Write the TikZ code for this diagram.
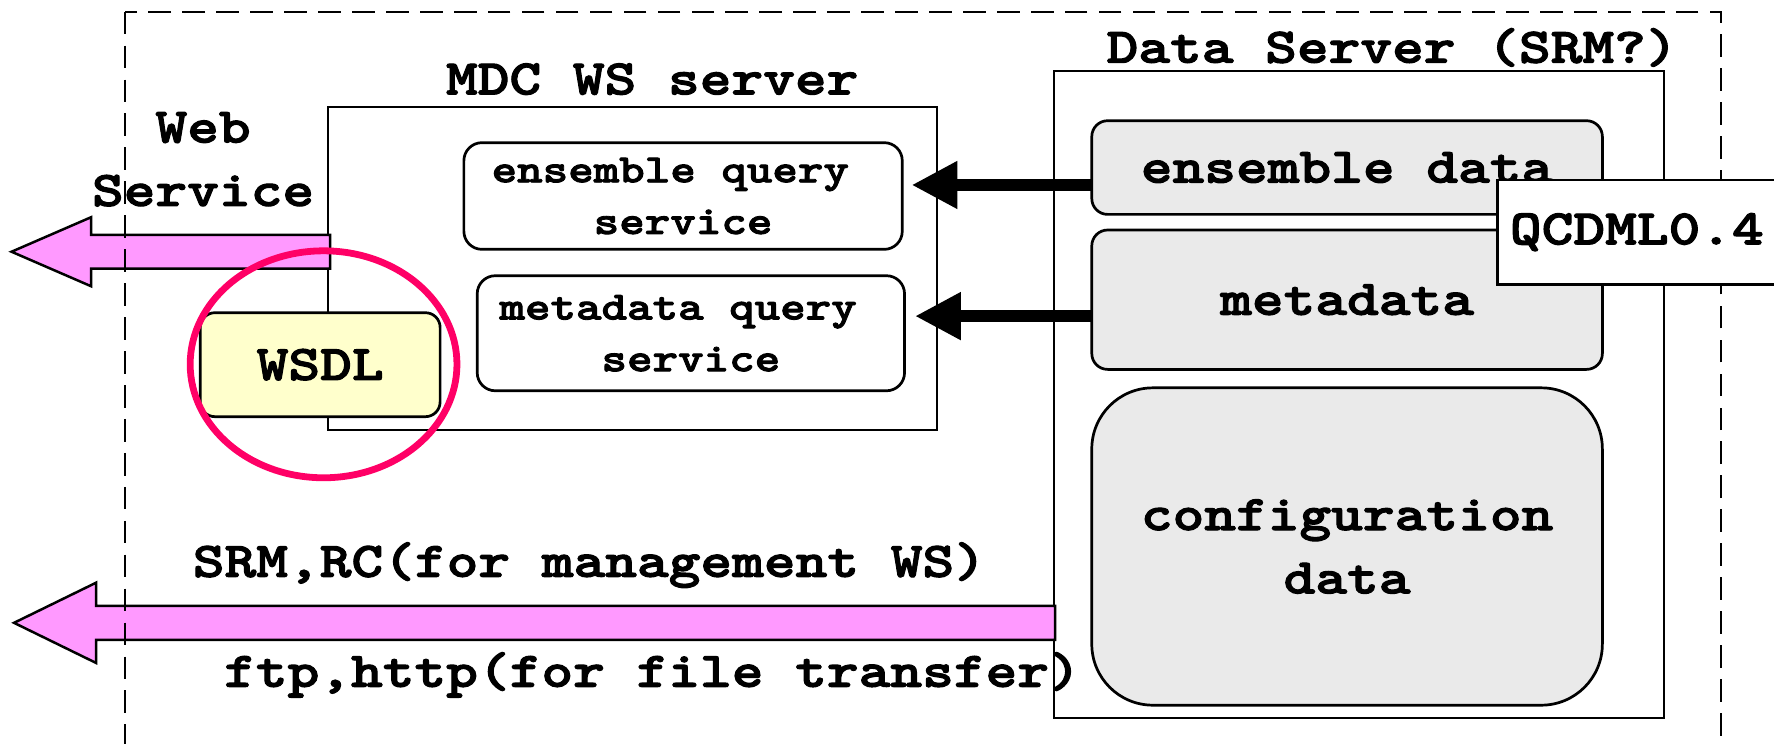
\documentclass[tikz,border=0pt]{standalone}
\usepackage{fontspec}
\newfontfamily\courfont{lmmonolt10-bold.otf}[FakeStretch=1.214,FakeBold=2.2]
\usetikzlibrary{arrows.meta,shapes.geometric,calc}
\definecolor{pinkfill}{HTML}{FF99FF}
\definecolor{ringred}{HTML}{FF0066}
\definecolor{wsdlfill}{HTML}{FFFFCC}
\definecolor{datafill}{HTML}{EAEAEA}
\newcommand{\myBig}{\courfont\fontsize{22pt}{28pt}\selectfont}
\newcommand{\mySmall}{\courfont\fontsize{17.7pt}{22.85pt}\selectfont}
\begin{document}
\begin{tikzpicture}[x=0.5pt,y=-0.5pt,
  plainbox/.style={draw, line width=0.9pt, inner sep=0pt, fill=white},
  svcbox/.style={draw, line width=1.2pt, rounded corners=8pt, inner sep=0pt, font=\mySmall, align=center, fill=white},
  databox/.style={draw, line width=1.2pt, rounded corners=7pt, inner sep=0pt, font=\myBig, align=center, fill=datafill},
  txtlabel/.style={font=\myBig, inner sep=0pt, align=center},
  pinkarrow/.style={draw, line width=1.1pt, fill=pinkfill, line join=miter},
  blackarrow/.style={line width=5.15pt, -{Triangle[length=20.25pt,width=19.75pt]}},
]
\clip (0,0) rectangle (1568,657);
\fill[white] (0,0) rectangle (1568,657);

% main boxes
\node[plainbox, minimum width=269.1pt, minimum height=142.5pt] (mdc) at (559.4,237.5) {};
\node[plainbox, minimum width=269.75pt, minimum height=286.25pt] (ds) at (1201.25,348.75) {};

% pink block arrows
\coordinate (wtip) at (10.2,222.5);
\coordinate (wend) at ([xshift=1.2pt]mdc.west |- wtip);
\draw[pinkarrow] (wtip) -- ($(wtip)+(70.3,-30.5)$) -- ($(wtip)+(70.3,-15)$) -- ($(wend)+(0,-15)$)
  -- ($(wend)+(0,15)$) -- ($(wtip)+(70.3,15)$) -- ($(wtip)+(70.3,30.5)$) -- cycle;
\coordinate (btip) at (12.4,550.5);
\coordinate (bend) at ([xshift=1pt]ds.west |- btip);
\draw[pinkarrow] (btip) -- ($(btip)+(72.6,-35.5)$) -- ($(btip)+(72.6,-15)$) -- ($(bend)+(0,-15)$)
  -- ($(bend)+(0,15)$) -- ($(btip)+(72.6,15)$) -- ($(btip)+(72.6,35.5)$) -- cycle;

% dashed frame
\draw[line width=0.9pt, dash pattern=on 10pt off 5pt] (110.8,10.3) rectangle (1521.3,720);

% services
\node[svcbox, minimum width=193.75pt, minimum height=47.15pt] (eqs) at (603.75,173.25) {ensemble query\phantom{x}\\service};
\node[svcbox, minimum width=188.85pt, minimum height=50.85pt] (mqs) at (610.65,294.55) {metadata query\phantom{x}\\service};
\node[databox, fill=wsdlfill, rounded corners=6.5pt, minimum width=106pt, minimum height=45.95pt] (wsdl) at (283,322.35) {WSDL};

% data
\coordinate (a1) at (965,163.5);
\coordinate (a2) at (965,279.4);
\draw[blackarrow, shorten >=3.5pt] (a1) -- (a1 -| eqs.east);
\draw[blackarrow, shorten >=4pt] (a2) -- (a2 -| mqs.east);
\node[databox, minimum width=225.65pt, minimum height=41.4pt] (edata) at (1190.65,148.1) {ensemble data};
\node[databox, minimum width=225.65pt, minimum height=61.6pt] (mdata) at (1190.65,264.9) {metadata};
\node[databox, rounded corners=27pt, minimum width=225.65pt, minimum height=140.25pt] (cfg) at (1190.65,483.05) {configuration\\data};

% labels
\node[txtlabel, anchor=base] (mdclabel) at (576.5,83.4) {MDC WS server};
\node[txtlabel, anchor=base] (dslabel) at (1230.5,55.4) {Data Server (SRM?)};
\node[txtlabel, anchor=base] (weblabel) at (179.5,182) {Web\\Service};
\node[txtlabel, anchor=base] (srmlabel) at (521,509.8) {SRM,RC(for management WS)};
\node[txtlabel, anchor=base] (ftplabel) at (576.75,607) {ftp,http(for file transfer)};

% highlight ring
\node[draw=ringred, line width=3pt, ellipse, inner sep=0pt, minimum width=117.9pt, minimum height=100.3pt] (ring) at (286,322) {};

% QCDML tag
\node[draw, line width=1.1pt, fill=white, anchor=west, inner xsep=5.4pt, inner ysep=0pt, minimum height=46.2pt, text width=140pt, align=left, font=\myBig] (qcdml) at (1322.7,205.2) {QCDML0.4};
\end{tikzpicture}
\end{document}
